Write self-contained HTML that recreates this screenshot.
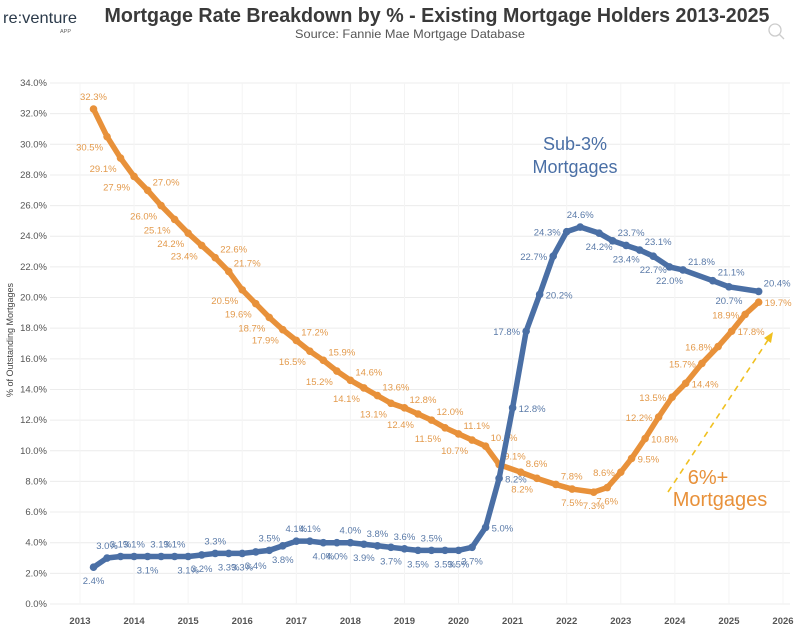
<!DOCTYPE html>
<html><head><meta charset="utf-8">
<style>
body{margin:0;background:#fff;font-family:"Liberation Sans",sans-serif;}
svg{display:block}
</style></head>
<body>
<svg id="chart" width="799" height="627" viewBox="0 0 799 627" xmlns="http://www.w3.org/2000/svg">
  <g>
    <text x="3" y="23" font-size="16" fill="#2b3a4a" textLength="74" lengthAdjust="spacingAndGlyphs">re:venture</text>
    <text x="60" y="33" font-size="5.5" fill="#666">APP</text>
  </g>
  <text x="437" y="22" text-anchor="middle" font-size="20" font-weight="bold" fill="#3a3a3a" textLength="665" lengthAdjust="spacingAndGlyphs">Mortgage Rate Breakdown by % - Existing Mortgage Holders 2013-2025</text>
  <text x="410" y="38" text-anchor="middle" font-size="12" fill="#555" textLength="230" lengthAdjust="spacingAndGlyphs">Source: Fannie Mae Mortgage Database</text>
  <g stroke="#ccc" fill="none" stroke-width="1.3">
    <circle cx="775" cy="30" r="6"/><line x1="779" y1="34" x2="784" y2="39"/>
  </g>
  <text transform="translate(13,340) rotate(-90)" text-anchor="middle" font-size="9" fill="#444">% of Outstanding Mortgages</text>
  <g id="grid"></g>
  <g id="yaxis"></g>
  <g id="xaxis"></g>
  <g id="series"></g>
  <g>
    <text x="575" y="150" text-anchor="middle" font-size="18" fill="#4a6fa5">Sub-3%</text>
    <text x="575" y="173" text-anchor="middle" font-size="18" fill="#4a6fa5">Mortgages</text>
    <text x="708" y="484" text-anchor="middle" font-size="20" fill="#e8913a">6%+</text>
    <text x="720" y="506" text-anchor="middle" font-size="20" fill="#e8913a">Mortgages</text>
    <line x1="668" y1="492" x2="768" y2="340" stroke="#f0c020" stroke-width="1.6" stroke-dasharray="6,5"/>
    <polygon points="773,332 764,338 771,343" fill="#f0c020"/>
  </g>
</svg>
<script>
const yTicks = [0,2,4,6,8,10,12,14,16,18,20,22,24,26,28,30,32,34];
const xTicks = [2013,2014,2015,2016,2017,2018,2019,2020,2021,2022,2023,2024,2025,2026];
const orangeYears = [2013.25,2013.5,2013.75,2014,2014.25,2014.5,2014.75,2015,2015.25,2015.5,2015.75,2016,2016.25,2016.5,2016.75,2017,2017.25,2017.5,2017.75,2018,2018.25,2018.5,2018.75,2019,2019.25,2019.5,2019.75,2020,2020.25,2020.5,2020.75,2021.15,2021.45,2021.8,2022.1,2022.5,2022.75,2023.0,2023.2,2023.45,2023.7,2023.95,2024.2,2024.5,2024.8,2025.05,2025.3,2025.55];
const orangeValues = [32.3,30.5,29.1,27.9,27.0,26.0,25.1,24.2,23.4,22.6,21.7,20.5,19.6,18.7,17.9,17.2,16.5,15.9,15.2,14.6,14.1,13.6,13.1,12.8,12.4,12.0,11.5,11.1,10.7,10.3,9.1,8.6,8.2,7.8,7.5,7.3,7.6,8.6,9.5,10.8,12.2,13.5,14.4,15.7,16.8,17.8,18.9,19.7];
const orangeSides = ['a','L','L','L','R','L','L','L','L','R','R','L','L','L','L','R','L','R','L','R','L','R','L','R','L','R','L','R','L','R','R','R','L','R','b','b','b','l','r','r','l','l','r','l','l','r','l','r'];
const blueYears = [2013.25,2013.5,2013.75,2014,2014.25,2014.5,2014.75,2015,2015.25,2015.5,2015.75,2016,2016.25,2016.5,2016.75,2017,2017.25,2017.5,2017.75,2018,2018.25,2018.5,2018.75,2019,2019.25,2019.5,2019.75,2020,2020.25,2020.5,2020.75,2021,2021.25,2021.5,2021.75,2022,2022.25,2022.6,2022.85,2023.1,2023.35,2023.6,2023.9,2024.15,2024.7,2025.0,2025.55];
const blueValues = [2.4,3.0,3.1,3.1,3.1,3.1,3.1,3.1,3.2,3.3,3.3,3.3,3.4,3.5,3.8,4.1,4.1,4.0,4.0,4.0,3.9,3.8,3.7,3.6,3.5,3.5,3.5,3.5,3.7,5.0,8.2,12.8,17.8,20.2,22.7,24.3,24.6,24.2,23.7,23.4,23.1,22.7,22.0,21.8,21.1,20.7,20.4];
const blueSides = ['b','a','a','a','b','a','a','b','b','a','b','b','b','a','b','a','a','b','b','a','b','a','b','a','b','a','b','b','b','r','r','r','l','r','l','l','a','b','R','b','R','b','b','R','R','b','R'];

const NS='http://www.w3.org/2000/svg';
const X0=50, X1=790, Y0=604, Y1=83;
function xScale(yr){return 80+(yr-2013)*(783-80)/13;}
function yScale(v){return Y0-(v/34)*(Y0-Y1);}
function mk(tag,attrs,parent){const e=document.createElementNS(NS,tag);for(const k in attrs)e.setAttribute(k,attrs[k]);parent.appendChild(e);return e;}
const grid=document.getElementById('grid'), ya=document.getElementById('yaxis'), xa=document.getElementById('xaxis'), ser=document.getElementById('series');
yTicks.forEach(t=>{
  const l=mk('line',{x1:X0,x2:X1,y1:yScale(t),y2:yScale(t),stroke:'#ececec','stroke-width':1},grid);
  
  
  const tx=mk('text',{x:47,y:yScale(t)+3,'text-anchor':'end','font-size':9.5,fill:'#555'},ya);
  tx.textContent=t.toFixed(1)+'%';
  
  
});
xTicks.forEach(t=>{
  const l=mk('line',{x1:xScale(t),x2:xScale(t),y1:Y1,y2:Y0,stroke:'#f4f4f4','stroke-width':1},grid);
  
  
  const tx=mk('text',{x:xScale(t),y:624,'text-anchor':'middle','font-size':9.5,'font-weight':'bold',fill:'#555'},xa);
  tx.textContent=t;
  
  
});
function drawSeries(years,vals,sides,color,labelColor,name){
  const g=mk('g',{},ser);
  
  
  const pts=years.map((y,i)=>xScale(y)+','+yScale(vals[i])).join(' ');
  const pl=mk('polyline',{points:pts,fill:'none',stroke:color,'stroke-width':5.5,'stroke-linejoin':'round','stroke-linecap':'round'},g);
  
  
  years.forEach((y,i)=>{
    const cx=xScale(y), cy=yScale(vals[i]);
    const c=mk('circle',{cx:cx,cy:cy,r:3.8,fill:color},g);
    
    
    const s=sides[i]; let x=cx,yy=cy,anc='middle';
    if(s==='a'){yy=cy-9;}
    else if(s==='b'){yy=cy+17;}
    else if(s==='l'){x=cx-6;yy=cy+4;anc='end';}
    else if(s==='r'){x=cx+6;yy=cy+4;anc='start';}
    else if(s==='L'){x=cx-4;yy=cy+14;anc='end';}
    else if(s==='R'){x=cx+5;yy=cy-5;anc='start';}
    const t=mk('text',{x:x,y:yy,'text-anchor':anc,'font-size':9.5,fill:labelColor},g);
    t.textContent=vals[i].toFixed(1)+'%';
    
    
  });
}
drawSeries(orangeYears,orangeValues,orangeSides,'#e8913a','#e39a4c','six-plus');
drawSeries(blueYears,blueValues,blueSides,'#4a6fa5','#5a7aa8','sub-3');
</script>
</body></html>
